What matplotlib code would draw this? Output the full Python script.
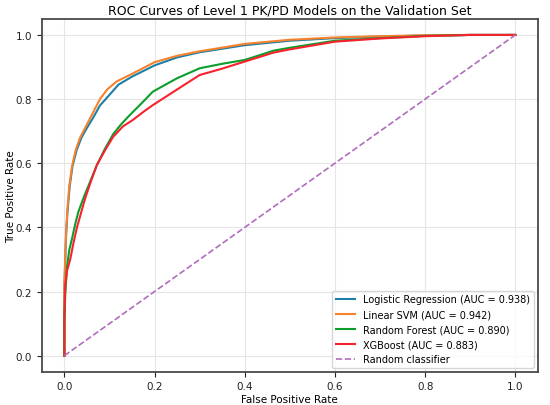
import numpy as np
import matplotlib
matplotlib.use("Agg")
import matplotlib.pyplot as plt

# ROC points (fpr, tpr)
lr_fpr = [0.0, 0.0, 0.002, 0.004, 0.007, 0.012, 0.018, 0.027, 0.038, 0.05, 0.063, 0.079, 0.098, 0.12, 0.15, 0.2, 0.25, 0.3, 0.4, 0.5, 0.6, 0.7, 0.8, 0.9, 1.0]
lr_tpr = [0.0, 0.2, 0.3, 0.38, 0.45, 0.53, 0.59, 0.64, 0.68, 0.71, 0.74, 0.78, 0.81, 0.845, 0.87, 0.905, 0.93, 0.946, 0.968, 0.982, 0.99, 0.995, 0.998, 1.0, 1.0]

svm_fpr = [0.0, 0.0, 0.002, 0.004, 0.007, 0.011, 0.017, 0.025, 0.035, 0.046, 0.057, 0.068, 0.079, 0.095, 0.116, 0.152, 0.2, 0.25, 0.3, 0.4, 0.5, 0.6, 0.7, 0.8, 0.9, 1.0]
svm_tpr = [0.0, 0.22, 0.31, 0.39, 0.46, 0.53, 0.59, 0.64, 0.68, 0.71, 0.74, 0.77, 0.80, 0.83, 0.855, 0.88, 0.915, 0.935, 0.949, 0.972, 0.985, 0.992, 0.996, 0.999, 1.0, 1.0]

rf_fpr = [0.0, 0.0, 0.002, 0.006, 0.011, 0.017, 0.024, 0.031, 0.042, 0.055, 0.072, 0.09, 0.108, 0.125, 0.145, 0.17, 0.196, 0.25, 0.3, 0.35, 0.4, 0.464, 0.5, 0.6, 0.7, 0.8, 0.9, 1.0]
rf_tpr = [0.0, 0.1, 0.19, 0.28, 0.33, 0.365, 0.41, 0.448, 0.49, 0.535, 0.594, 0.645, 0.69, 0.72, 0.75, 0.785, 0.823, 0.865, 0.896, 0.91, 0.922, 0.951, 0.96, 0.982, 0.99, 0.997, 1.0, 1.0]

xgb_fpr = [0.0, 0.0, 0.002, 0.006, 0.013, 0.02, 0.028, 0.036, 0.046, 0.058, 0.072, 0.09, 0.108, 0.13, 0.152, 0.175, 0.196, 0.25, 0.3, 0.35, 0.4, 0.464, 0.5, 0.6, 0.7, 0.8, 0.9, 1.0]
xgb_tpr = [0.0, 0.12, 0.22, 0.265, 0.30, 0.35, 0.40, 0.44, 0.49, 0.54, 0.594, 0.64, 0.682, 0.715, 0.735, 0.76, 0.781, 0.83, 0.875, 0.895, 0.917, 0.945, 0.955, 0.979, 0.989, 0.996, 1.0, 1.0]

labels = ["Logistic Regression (AUC = 0.938)", "Linear SVM (AUC = 0.942)",
          "Random Forest (AUC = 0.890)", "XGBoost (AUC = 0.883)"]
colors = ["#1b7fa6", "#f7822e", "#0b9e2a", "#f8222e"]

fig = plt.figure(figsize=(5.5, 4.06), dpi=100)
ax = fig.add_axes([0.076, 0.082, 0.902, 0.869])

curves = [(lr_fpr, lr_tpr), (svm_fpr, svm_tpr), (rf_fpr, rf_tpr), (xgb_fpr, xgb_tpr)]
for (fpr, tpr), lab, col in zip(curves, labels, colors):
    ax.plot(fpr, tpr, color=col, lw=1.5, label=lab)
ax.plot([0, 1], [0, 1], color="#b06cbd", lw=1.2, ls="--", label="Random classifier")

ax.set_xlim(-0.05, 1.05)
ax.set_ylim(-0.05, 1.05)
ax.set_xticks([0.0, 0.2, 0.4, 0.6, 0.8, 1.0])
ax.set_yticks([0.0, 0.2, 0.4, 0.6, 0.8, 1.0])
ax.grid(True, color="#e6e6e6", lw=0.8)
ax.set_axisbelow(True)
for s in ax.spines.values():
    s.set_color("#4a4a4a")
    s.set_linewidth(1.3)
ax.tick_params(labelsize=7.5, colors="#222222", length=3.5)
ax.set_xlabel("False Positive Rate", fontsize=7.5, labelpad=2)
ax.set_ylabel("True Positive Rate", fontsize=7.5)
ax.yaxis.set_label_coords(-0.052, 0.5)
ax.set_title("ROC Curves of Level 1 PK/PD Models on the Validation Set", fontsize=9, pad=4)
ax.legend(loc="lower right", fontsize=7, handlelength=2.0, borderpad=0.4,
          labelspacing=0.5, borderaxespad=0.4)

fig.savefig("out.png", dpi=100)
